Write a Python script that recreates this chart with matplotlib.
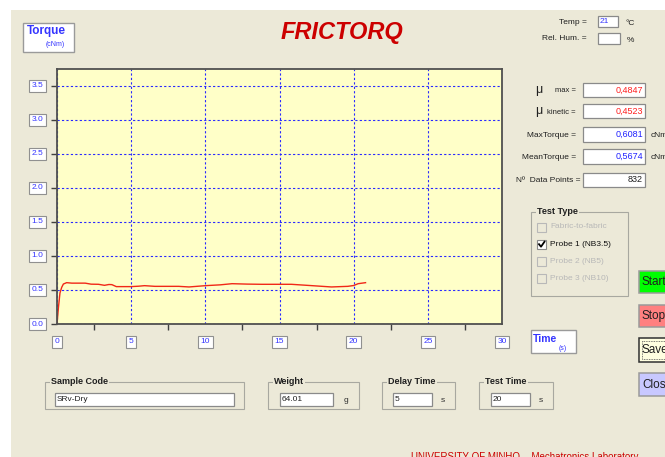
import matplotlib
matplotlib.use("Agg")
import matplotlib.pyplot as plt
from matplotlib.patches import Rectangle
from matplotlib import transforms

plt.rcParams["font.family"] = ["Liberation Sans", "DejaVu Sans"]

# ---- 数据 ----
time_s = [0.0, 0.1, 0.2, 0.32, 0.43, 0.65, 1.0, 1.9, 2.3, 2.8, 3.2, 3.5, 3.7, 4.0,
          5.0, 5.5, 5.9, 6.6, 8.2, 8.9, 10.0, 11.0, 11.8, 12.8, 13.8, 15.8, 17.2,
          18.5, 19.6, 20.0, 20.3, 20.8]
torque = [0.0, 0.25, 0.456, 0.54, 0.587, 0.607, 0.600, 0.600, 0.585, 0.583, 0.568,
          0.580, 0.578, 0.549, 0.549, 0.555, 0.563, 0.553, 0.553, 0.544, 0.563,
          0.575, 0.592, 0.586, 0.583, 0.583, 0.563, 0.544, 0.553, 0.565, 0.592, 0.607]

x_ticks = [0, 5, 10, 15, 20, 25, 30]
x_labels = ["0", "5", "10", "15", "20", "25", "30"]
y_ticks = [0.0, 0.5, 1.0, 1.5, 2.0, 2.5, 3.0, 3.5]
y_labels = ["0.0", "0.5", "1.0", "1.5", "2.0", "2.5", "3.0", "3.5"]

result_names = ["max =", "kinetic =", "MaxTorque =", "MeanTorque =", "Nº  Data Points ="]
result_values = ["0,4847", "0,4523", "0,6081", "0,5674", "832"]
result_colors = ["#FF2020", "#FF2020", "#2020FF", "#2020FF", "#202020"]

test_types = ["Fabric-to-fabric", "Probe 1 (NB3.5)", "Probe 2 (NB5)", "Probe 3 (NB10)"]
test_checked = [False, True, False, False]

temp_value = "21"
sample_code = "SRv-Dry"
weight_g = "64.01"
delay_time = "5"
test_time = "20"

W, H = 665, 457
BEIGE = "#ECE9D8"
BLUE = "#3535FF"

fig = plt.figure(figsize=(W / 100, H / 100), dpi=100)
fig.patch.set_facecolor("white")

# 背景层：像素坐标
bg = fig.add_axes([0, 0, 1, 1])
bg.set_xlim(0, W)
bg.set_ylim(H, 0)
bg.axis("off")
bg.add_patch(Rectangle((11, 10), W, H, fc=BEIGE, ec="none"))


def field(x0, y0, x1, y1, text="", color="#202020", ha="right", size=6):
    bg.add_patch(Rectangle((x0, y0), x1 - x0, y1 - y0, fc="white", ec="#8A8A8A", lw=0.9))
    if text:
        tx = x1 - 2 if ha == "right" else x0 + 2
        bg.text(tx, (y0 + y1) / 2, text, ha=ha, va="center", fontsize=size, color=color)


def group(x0, y0, x1, y1, title):
    bg.add_patch(Rectangle((x0, y0), x1 - x0, y1 - y0, fc="none", ec="#A8A8A0", lw=0.8))
    bg.text(x0 + 6, y0, title, ha="left", va="center", fontsize=6.5, weight="bold",
            color="#202020", bbox=dict(fc=BEIGE, ec="none", pad=1))


# 标题区
bg.add_patch(Rectangle((22.5, 23), 51.5, 29, fc="white", ec="#9A9A9A", lw=1))
bg.text(27, 31, "Torque", ha="left", va="center", fontsize=8.5, weight="bold", color=BLUE)
bg.text(46, 45, "(cNm)", ha="left", va="center", fontsize=5, color=BLUE)
bg.text(342, 33, "FRICTORQ", ha="center", va="center", fontsize=17, weight="bold",
        style="italic", color="#CC0000")

bg.text(587, 22, "Temp =", ha="right", va="center", fontsize=6, color="#202020")
field(598, 16, 618, 27, temp_value, color=BLUE, ha="left")
bg.text(625, 23.5, "°C", ha="left", va="center", fontsize=6, color="#202020")
bg.text(587, 39, "Rel. Hum. =", ha="right", va="center", fontsize=6, color="#202020")
field(598, 33, 620, 44)
bg.text(627, 40, "%", ha="left", va="center", fontsize=6, color="#202020")

# 结果栏
box_rows = [(83, 97), (104, 118), (127, 142), (149, 164), (173, 187)]
for i, (name, val, col) in enumerate(zip(result_names, result_values, result_colors)):
    y0, y1 = box_rows[i]
    yc = (y0 + y1) / 2 + 1
    if i < 2:
        bg.text(535, yc - 1, "μ", ha="left", va="center", fontsize=9, color="#202020")
        bg.text(576, yc, name, ha="right", va="center", fontsize=5.5, color="#202020")
    elif i < 4:
        bg.text(576, yc, name, ha="right", va="center", fontsize=6, color="#202020")
    else:
        bg.text(580, yc, name, ha="right", va="center", fontsize=6, color="#202020")
    field(583, y0, 645, y1, val, color=col, size=6.5)
    if i in (2, 3):
        bg.text(651, yc, "cNm", ha="left", va="center", fontsize=6, color="#202020")

# Test Type 分组
group(531, 212, 628, 296, "Test Type")
for i, (name, chk) in enumerate(zip(test_types, test_checked)):
    yc = 227 + 17.2 * i
    bg.add_patch(Rectangle((537, yc - 4.5), 9, 9, fc="white" if chk else BEIGE,
                           ec="#8A8A8A" if chk else "#B8B8B8", lw=0.8))
    if chk:
        bg.plot([539, 541, 544.5], [yc, yc + 2.5, yc - 2.5], color="black", lw=1.3)
    bg.text(550, yc, name, ha="left", va="center", fontsize=6,
            color="#101010" if chk else "#B8B8B8")

# 按钮
buttons = [("Start", "#00FF00", 271, 293), ("Stop", "#FF8080", 305, 327),
           ("Save", "#FFFFE0", 338, 362), ("Close", "#C8C8FF", 373, 396)]
for name, col, y0, y1 in buttons:
    ec = "#303030" if name == "Save" else "#9A9A9A"
    bg.add_patch(Rectangle((639, y0), 40, y1 - y0, fc=col, ec=ec, lw=1.1))
    if name == "Save":
        bg.add_patch(Rectangle((642, y0 + 3), 40, y1 - y0 - 6, fc="none", ec="#505050",
                               lw=0.6, ls=(0, (1, 1))))
    bg.text(642, (y0 + y1) / 2, name, ha="left", va="center", fontsize=8.5, color="#202020")

# Time 标签
bg.add_patch(Rectangle((531, 330), 45, 23, fc="white", ec="#9A9A9A", lw=1))
bg.text(533, 338.5, "Time", ha="left", va="center", fontsize=7.5, weight="bold", color=BLUE)
bg.text(559, 348, "(s)", ha="left", va="center", fontsize=5, color=BLUE)

# 底部输入区
group(45, 382, 244, 409, "Sample Code")
field(55, 393, 234, 406, sample_code, ha="left", size=6)
group(268, 382, 359, 409, "Weight")
field(280, 393, 333, 406, weight_g, ha="left", size=6)
bg.text(344, 400, "g", ha="left", va="center", fontsize=6, color="#303030")
group(382, 382, 455, 409, "Delay Time")
field(393, 393, 432, 406, delay_time, ha="left", size=6)
bg.text(441, 400, "s", ha="left", va="center", fontsize=6, color="#303030")
group(479, 382, 553, 409, "Test Time")
field(491, 393, 530, 406, test_time, ha="left", size=6)
bg.text(539, 400, "s", ha="left", va="center", fontsize=6, color="#303030")

bg.text(411, 457, "UNIVERSITY OF MINHO  - Mechatronics Laboratory", ha="left",
        va="center", fontsize=7, color="#CC0000")

# ---- 曲线图 ----
ax = fig.add_axes([57 / W, 1 - 324 / H, 445 / W, 255 / H])
ax.set_facecolor("#FFFFC8")
ax.plot(time_s, torque, color="#F02818", lw=1.0)
ax.set_xlim(0, 30)
ax.set_ylim(0, 3.745)
ax.set_xticks(x_ticks)
ax.set_xticks([t + 2.5 for t in x_ticks[:-1]], minor=True)
ax.set_yticks(y_ticks)
ax.tick_params(axis="x", which="major", length=0, labelbottom=False)
ax.tick_params(axis="x", which="minor", length=4.3, width=1, color="#404040")
ax.tick_params(axis="y", length=4.3, width=1, color="#404040", labelleft=False)
ax.grid(True, which="major", color="#2828FF", ls=(0, (2, 2)), lw=0.8)
for sp in ax.spines.values():
    sp.set_color("#505050")
    sp.set_linewidth(1.3)

box_style = dict(boxstyle="square,pad=0.3", fc="white", ec="#909090", lw=0.8)
ytrans = transforms.offset_copy(ax.get_yaxis_transform(), fig=fig, x=-14, y=0, units="dots")
for v, lab in zip(y_ticks, y_labels):
    ax.text(0, v, lab, transform=ytrans, ha="right", va="center", fontsize=6,
            color=BLUE, bbox=box_style, clip_on=False)
xtrans = transforms.offset_copy(ax.get_xaxis_transform(), fig=fig, x=0, y=-17.5, units="dots")
for v, lab in zip(x_ticks, x_labels):
    ax.text(v, 0, lab, transform=xtrans, ha="center", va="center", fontsize=6,
            color=BLUE, bbox=box_style, clip_on=False)

fig.savefig("out.png", dpi=100, facecolor=fig.get_facecolor())
